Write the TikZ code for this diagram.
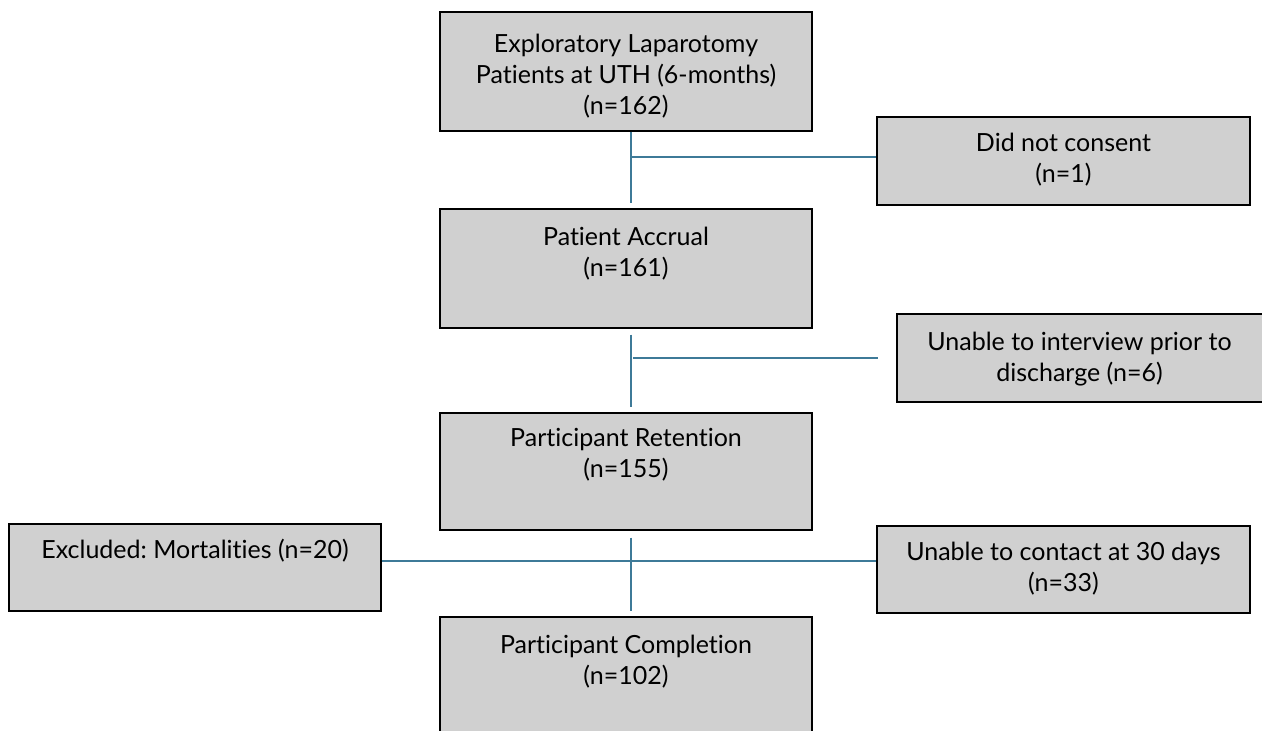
\documentclass[tikz,border=0pt]{standalone}
\usepackage{fontspec}
\setmainfont{Lato}[Ligatures=NoCommon]
\frenchspacing
\definecolor{boxfill}{RGB}{208,208,208}
\definecolor{linkcol}{RGB}{62,122,152}
\begin{document}
\begin{tikzpicture}[x=1pt,y=-1pt,
  fbox/.style={draw=black, line width=1.2pt, fill=boxfill, rectangle, inner sep=0pt, minimum width=372pt},
  ftext/.style={anchor=north, align=center, inner sep=0pt, font=\fontsize{25}{31}\selectfont},
  link/.style={draw=linkcol, line width=1.3pt}]
\useasboundingbox (0,0) rectangle (1262,731);
\begin{scope}
\clip (0,0) rectangle (1262,731);
% main column boxes
\node[fbox, minimum height=119pt] (b1) at (626,71.5) {};
\node[fbox, minimum height=119pt] (b2) at (626,268.5) {};
\node[fbox, minimum height=117pt] (b3) at (626,471.5) {};
\node[fbox, minimum height=143pt] (b4) at (626,688.5) {};
% side boxes
\node[fbox, minimum width=373pt, minimum height=88pt] (s1) at (1063.5,161) {};
\node[fbox, minimum width=383pt, minimum height=88pt] (s2) at (1088.5,358) {};
\node[fbox, minimum height=87pt] (s3) at (195,567.5) {};
\node[fbox, minimum width=373pt, minimum height=87pt] (s4) at (1063.5,569.5) {};
\end{scope}
% texts
\node[ftext] (t1) at ([yshift=-22]b1.north) {Exploratory Laparotomy\\Patients at UTH (6-months)\\(n=162)};
\node[ftext] (t2) at ([yshift=-18]b2.north) {Patient Accrual\\(n=161)};
\node[ftext] (t3) at ([yshift=-16]b3.north) {Participant Retention\\(n=155)};
\node[ftext] (t4) at ([yshift=-18]b4.north) {Participant Completion\\(n=102)};
\node[ftext] (t5) at ([yshift=-16]s1.north) {Did not consent\\(n=1)};
\node[ftext] (t6) at ([yshift=-18,xshift=-9]s2.north) {Unable to interview prior to\\discharge (n=6)};
\node[ftext] (t7) at ([yshift=-16]s3.north) {Excluded: Mortalities (n=20)};
\node[ftext] (t8) at ([yshift=-16]s4.north) {Unable to contact at 30 days\\(n=33)};
% connector junctions
\coordinate (v1a) at ([xshift=5]b1.south);
\coordinate (v1b) at ([xshift=5,yshift=5]b2.north);
\coordinate (h1a) at (v1a |- 0,157);
\coordinate (v2a) at ([xshift=5,yshift=-6]b2.south);
\coordinate (v2b) at ([xshift=5,yshift=5]b3.north);
\coordinate (h2a) at (633,358);
\coordinate (h2b) at ([xshift=-18]s2.west);
\coordinate (v3a) at ([xshift=5,yshift=-7]b3.south);
\coordinate (v3b) at ([xshift=5,yshift=5]b4.north);
\coordinate (h3a) at (s3.east |- 0,561);
\coordinate (h3b) at (s4.west |- 0,561);
\draw[link] (v1a) -- (v1b);
\draw[link] (h1a) -- (h1a -| s1.west);
\draw[link] (v2a) -- (v2b);
\draw[link] (h2a) -- (h2b);
\draw[link] (v3a) -- (v3b);
\draw[link] (h3a) -- (h3b);
\end{tikzpicture}
\end{document}
